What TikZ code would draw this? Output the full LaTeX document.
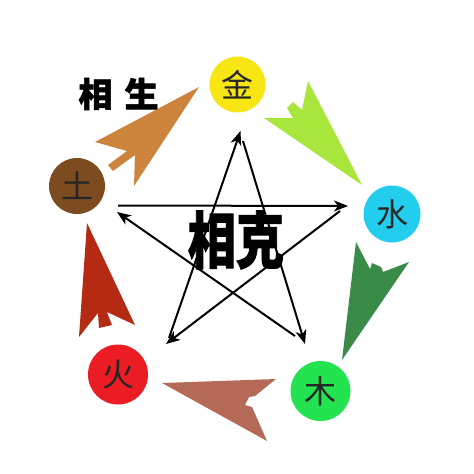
\documentclass[tikz,border=0pt]{standalone}
\usepackage{fontspec}
\newfontfamily\cjk{Noto Sans CJK SC}
\newfontfamily\cjkheavy{Noto Sans CJK SC}[BoldFeatures={FakeBold=1.6}]
\usetikzlibrary{arrows.meta}
\definecolor{cjin}{RGB}{247,230,20}
\definecolor{cshui}{RGB}{35,205,238}
\definecolor{cmu}{RGB}{35,228,80}
\definecolor{chuo}{RGB}{236,28,36}
\definecolor{ctu}{RGB}{124,76,32}
\definecolor{aorange}{RGB}{204,132,60}
\definecolor{alime}{RGB}{168,230,60}
\definecolor{adgreen}{RGB}{58,138,72}
\definecolor{abrown}{RGB}{180,106,86}
\definecolor{ared}{RGB}{180,42,18}
\begin{document}
\begin{tikzpicture}[x=1pt,y=-1pt,
  element/.style={circle, inner sep=0pt, font=\cjk\fontsize{32}{32}\selectfont, text=black!85},
  kearrow/.style={line width=2pt, -{Stealth[length=14pt,width=11pt,inset=4pt]}},
  bigtext/.style={inner sep=0pt, text=black}
]
\useasboundingbox (0,0) rectangle (474,474);
% sheng arrows (generating cycle)
\fill[aorange] (199,87) -- (95,142) -- (127,151) -- (108,165) -- (113,171) -- (135,155) -- (134,186) -- cycle;
\fill[alime] (362,185) -- (308,81) -- (302,110) -- (293,102) -- (287,108) -- (293,118) -- (264,118) -- cycle;
\fill[adgreen] (342,360) -- (356,242) -- (370,269) -- (372,263) -- (381,267) -- (383,272) -- (409,262) -- cycle;
\fill[abrown] (162,383) -- (276,379) -- (255,396) -- (249,397) -- (245,405) -- (252,407) -- (267,441) -- cycle;
\fill[ared] (87,223) -- (79,337) -- (98,313) -- (99,328) -- (112,325) -- (107,312) -- (135,325) -- cycle;
% element circles
\node[element, fill=cjin, minimum size=56pt] (jin) at (237.5,84.5) {金};
\node[element, fill=cshui, minimum size=57pt] (shui) at (392,214) {水};
\node[element, fill=cmu, minimum size=60pt] (mu) at (320.5,391) {木};
\node[element, fill=chuo, minimum size=60pt] (huo) at (118,374.5) {火};
\node[element, fill=ctu, minimum size=56pt] (tu) at (77,186) {土};
% titles
\node[bigtext, font=\cjkheavy\bfseries\fontsize{34}{34}\selectfont] (sheng) at (118.5,94) {相\hspace{12pt}生};
\node[bigtext, font=\cjkheavy\bfseries\fontsize{56}{56}\selectfont] (ke) at (236,240) {\scalebox{0.86}[1.1]{相克}};
% ke star
\coordinate (sT) at (240.5,131);
\coordinate (sT2) at (243,141);
\coordinate (sL) at (117,212);
\coordinate (sL2) at (118,205.5);
\coordinate (sR) at (348,206);
\coordinate (sR2) at (340,211);
\coordinate (sBL) at (166,344);
\coordinate (sBL2) at (169,338);
\coordinate (sBR) at (305,344);
\coordinate (sBR2) at (295,336);
\draw[kearrow] (sBL2) -- (sT);
\draw[kearrow] (sT2) -- (sBR);
\draw[kearrow] (sBR2) -- (sL);
\draw[kearrow] (sL2) -- (sR);
\draw[kearrow] (sR2) -- (sBL);
\end{tikzpicture}
\end{document}
